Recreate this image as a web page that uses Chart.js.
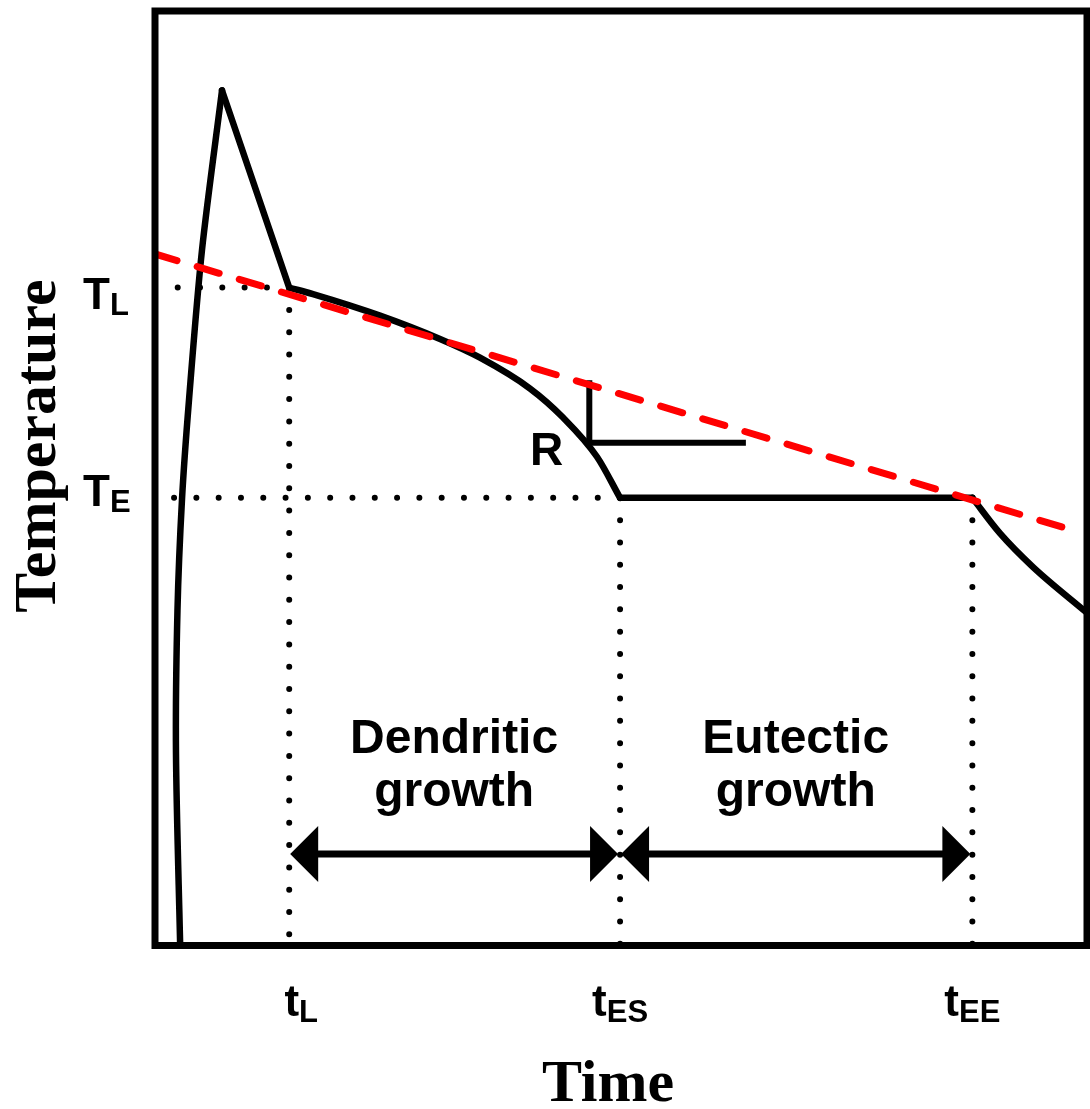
<!DOCTYPE html>
<html>
<head>
<meta charset="utf-8">
<title>Cooling curve</title>
<script src="https://cdn.jsdelivr.net/npm/chart.js@4/dist/chart.umd.min.js"></script>
<style>
  html, body { margin: 0; padding: 0; background: #fff; }
  canvas { display: block; }
</style>
</head>
<body>
<canvas id="chart" width="1090" height="1109"></canvas>
<script>
// Characteristic times (x) and temperatures (y), in axis units 0..100
const tL = 14.4, tES = 49.9, tEE = 87.7;
const TL = 70.4, TE = 47.9;

// Pouring: temperature rise up to the superheat peak
const pouring = [
  {x: 2.70, y: 0}, {x: 2.25, y: 20.7}, {x: 2.41, y: 35.8}, {x: 2.90, y: 47.8},
  {x: 3.65, y: 58.4}, {x: 5.04, y: 74.4}, {x: 7.19, y: 91.5}
];
// Loss of superheat down to the liquidus
const superheatLoss = [{x: 7.19, y: 91.5}, {x: tL, y: TL}];
// Primary (dendritic) solidification
const dendritic = [
  {x: tL, y: TL}, {x: 16.95, y: 69.7}, {x: 24.14, y: 67.4}, {x: 30.58, y: 64.9},
  {x: 34.87, y: 62.9}, {x: 40.24, y: 59.6}, {x: 43.78, y: 56.5}, {x: 47.42, y: 52.3},
  {x: tES, y: TE}
];
// Eutectic arrest
const eutectic = [{x: tES, y: TE}, {x: tEE, y: TE}];
// Cooling of the solid
const solidCooling = [{x: tEE, y: TE}, {x: 90.67, y: 44.1}, {x: 94.21, y: 40.5}, {x: 100, y: 35.6}];
// Cooling-rate (R) tangent line
const rateLine = [{x: 0, y: 74.0}, {x: 98.6, y: 44.4}];
// Slope triangle for R
const slopeMark = [{x: 46.6, y: 60.5}, {x: 46.6, y: 53.8}, {x: 63.4, y: 53.8}];

// Axis labels
const tempTicks = [
  {main: 'T', sub: 'L', value: TL, dy: 5},
  {main: 'T', sub: 'E', value: TE, dy: -8}
];
const timeTicks = [
  {main: 't', sub: 'L', value: tL, dx: 12},
  {main: 't', sub: 'ES', value: tES, dx: 0},
  {main: 't', sub: 'EE', value: tEE, dx: 0}
];
const stages = [
  {lines: ['Dendritic', 'growth'], from: tL, to: tES},
  {lines: ['Eutectic', 'growth'], from: tES, to: tEE}
];
const arrowLevel = 9.8;
const xTitle = 'Time';
const yTitle = 'Temperature';

const SANS = '"Liberation Sans", Arial, sans-serif';
const SERIF = '"Liberation Serif", "Times New Roman", serif';

function solid(data, tension) {
  return {data, showLine: true, borderColor: '#000', borderWidth: 6.5, pointRadius: 0,
    tension: tension, borderCapStyle: 'round', borderJoinStyle: 'round', fill: false, order: 2};
}
function smooth(data) {
  return Object.assign(solid(data, 0.4), {cubicInterpolationMode: 'monotone'});
}
function dotted(data) {
  return {data, showLine: true, borderColor: '#000', borderWidth: 6, pointRadius: 0,
    borderDash: [0, 22.3], borderCapStyle: 'round', tension: 0, fill: false, order: 3};
}

function subLabel(ctx, main, sub, x, y, mainSize, subSize, align) {
  ctx.font = 'bold ' + mainSize + 'px ' + SANS;
  const wm = ctx.measureText(main).width;
  ctx.font = 'bold ' + subSize + 'px ' + SANS;
  const ws = ctx.measureText(sub).width;
  const total = wm + ws;
  let x0 = x;
  if (align === 'center') x0 = x - total / 2;
  else if (align === 'right') x0 = x - total;
  ctx.textAlign = 'left';
  ctx.textBaseline = 'alphabetic';
  ctx.font = 'bold ' + mainSize + 'px ' + SANS;
  ctx.fillText(main, x0, y);
  ctx.font = 'bold ' + subSize + 'px ' + SANS;
  ctx.fillText(sub, x0 + wm, y + 6);
}

const annotations = {
  id: 'annotations',
  afterDatasetsDraw(chart) {
    const {ctx, chartArea: a, scales: {x, y}} = chart;
    ctx.save();
    ctx.fillStyle = '#000';
    ctx.strokeStyle = '#000';

    // Stage arrows
    const ay = y.getPixelForValue(arrowLevel);
    const headL = 28, headH = 28;
    stages.forEach(s => {
      const x1 = x.getPixelForValue(s.from) + 1;
      const x2 = x.getPixelForValue(s.to) - 2;
      ctx.lineWidth = 7;
      ctx.lineCap = 'butt';
      ctx.beginPath();
      ctx.moveTo(x1 + headL - 2, ay);
      ctx.lineTo(x2 - headL + 2, ay);
      ctx.stroke();
      ctx.beginPath();
      ctx.moveTo(x1, ay); ctx.lineTo(x1 + headL, ay - headH); ctx.lineTo(x1 + headL, ay + headH);
      ctx.closePath(); ctx.fill();
      ctx.beginPath();
      ctx.moveTo(x2, ay); ctx.lineTo(x2 - headL, ay - headH); ctx.lineTo(x2 - headL, ay + headH);
      ctx.closePath(); ctx.fill();

      // Stage name
      const cx = (x1 + x2) / 2;
      ctx.font = 'bold 48px ' + SANS;
      ctx.textAlign = 'center';
      ctx.textBaseline = 'alphabetic';
      ctx.fillText(s.lines[0], cx, ay - 101);
      ctx.fillText(s.lines[1], cx, ay - 48);
    });

    // R label beside the slope mark
    const rx = x.getPixelForValue(slopeMark[1].x);
    const ry = y.getPixelForValue(slopeMark[1].y);
    ctx.font = 'bold 46px ' + SANS;
    ctx.textAlign = 'right';
    ctx.textBaseline = 'alphabetic';
    ctx.fillText('R', rx - 26, ry + 22);

    // Frame
    ctx.lineWidth = 7;
    ctx.lineJoin = 'miter';
    ctx.strokeRect(a.left, a.top, a.right - a.left, a.bottom - a.top);

    // Temperature marks
    tempTicks.forEach(t => {
      const py = y.getPixelForValue(t.value) + t.dy + 16;
      subLabel(ctx, t.main, t.sub, 83, py, 44, 31, 'left');
    });
    // Time marks
    timeTicks.forEach(t => {
      const px = x.getPixelForValue(t.value) + t.dx;
      subLabel(ctx, t.main, t.sub, px, 1016, 44, 31, 'center');
    });

    // Axis titles
    ctx.font = 'bold 60px ' + SERIF;
    ctx.textAlign = 'center';
    ctx.textBaseline = 'alphabetic';
    ctx.fillText(xTitle, 608, 1101);
    ctx.save();
    ctx.translate(55, 446);
    ctx.rotate(-Math.PI / 2);
    ctx.fillText(yTitle, 0, 0);
    ctx.restore();

    ctx.restore();
  }
};

new Chart(document.getElementById('chart'), {
  type: 'scatter',
  data: {
    datasets: [
      {data: rateLine, showLine: true, borderColor: '#ff0000', borderWidth: 7, pointRadius: 0,
        borderDash: [23, 21], borderCapStyle: 'round', tension: 0, fill: false, order: 0},
      solid(pouring, 0.3),
      solid(superheatLoss, 0),
      smooth(dendritic),
      solid(eutectic, 0),
      smooth(solidCooling),
      Object.assign(solid(slopeMark, 0), {borderJoinStyle: 'miter', borderCapStyle: 'butt', borderWidth: 6}),
      dotted([{x: tL, y: TL}, {x: 2.36, y: TL}]),
      dotted([{x: tL, y: TL}, {x: tL, y: 0}]),
      dotted([{x: tES, y: TE}, {x: 1.6, y: TE}]),
      dotted([{x: tES, y: TE}, {x: tES, y: 0}]),
      dotted([{x: tEE, y: TE}, {x: tEE, y: 0}])
    ]
  },
  options: {
    responsive: false,
    animation: false,
    devicePixelRatio: 1,
    layout: {padding: {left: 155, top: 11, right: 3, bottom: 163.5}},
    scales: {
      x: {type: 'linear', min: 0, max: 100, display: false},
      y: {type: 'linear', min: 0, max: 100, display: false}
    },
    plugins: {legend: {display: false}, tooltip: {enabled: false}, title: {display: false}}
  },
  plugins: [annotations]
});
</script>
</body>
</html>
